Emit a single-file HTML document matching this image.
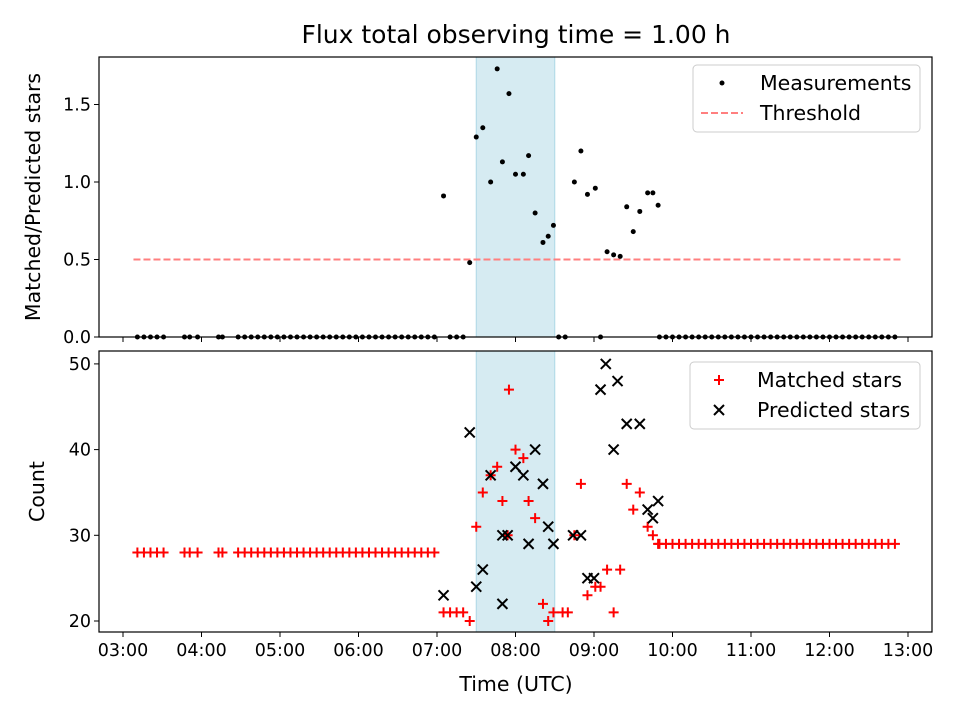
<!DOCTYPE html>
<html><head><meta charset="utf-8"><style>
body{margin:0;background:#fff}
svg{display:block;font-family:"DejaVu Sans","Liberation Sans",sans-serif}
</style></head><body>
<svg id="fig" width="960" height="720" viewBox="0 0 960 720">
<rect width="960" height="720" fill="#fff"/>
<text x="516" y="43" font-size="25" text-anchor="middle">Flux total observing time = 1.00 h</text>
<g id="topPanel"></g>
<g id="botPanel"></g>
</svg>
<script>
// minutes after 03:00 UTC
const baseTimes=[11,16,21,26,31,47,51,57,73,76];
for(let m=88;m<=238;m+=5)baseTimes.push(m);
const lateTimes=[];
for(let m=410;m<=590;m+=5)lateTimes.push(m);
const ratioTimes=[245,265,270,275,281,286,290,295,300,306,310,315,321,325,329,345,350,355,361,365,370,375,380,385,390,395,401,405,409];
const ratioValues=[0.91,0.48,1.29,1.35,1.00,1.73,1.13,1.57,1.05,1.05,1.17,0.80,0.61,0.65,0.72,1.00,1.20,0.92,0.96,0,0.55,0.53,0.52,0.84,0.68,0.81,0.93,0.93,0.85];
const extraZeroTimes=[250,255,260,333,338];
const matchedTimes=[295,300,306,286,281,275,290,310,315,270,294,350,385,395,390,401,405,409,345,370,380,361,365,355,375,321,325,329,336,340,245,250,255,260,265];
const matchedCounts=[47,40,39,38,37,35,34,34,32,31,30,36,36,35,33,31,30,29,30,26,26,24,24,23,21,22,20,21,21,21,21,21,21,21,20];
const predTimes=[369,378,365,385,395,375,265,315,300,306,281,321,409,401,405,325,290,294,310,329,344,350,275,270,245,290,355,360];
const predCounts=[50,48,47,43,43,40,42,40,38,37,37,36,34,33,32,31,30,30,29,29,30,30,26,24,23,22,25,25];
const xTicks=["03:00","04:00","05:00","06:00","07:00","08:00","09:00","10:00","11:00","12:00","13:00"];
const topTicks=[0,0.5,1.0,1.5];
const botTicks=[20,30,40,50];
const span=[270,330];

const NS="http://www.w3.org/2000/svg";
const FS=17.5, LF=20.5;
function mk(p,tag,a){const e=document.createElementNS(NS,tag);for(const k in a)e.setAttribute(k,a[k]);p.appendChild(e);return e;}
const X=m=>123+m/60*78.5;
const YT=v=>337-v*155;
const YB=c=>621-(c-20)*8.57;
const L=99,R=932;
const topG=document.getElementById('topPanel'),botG=document.getElementById('botPanel');

function axes(g,t,b,ticks,yf,fmt,lab,showX){
  let r=mk(g,'rect',{x:X(span[0]),y:t,width:X(span[1])-X(span[0]),height:b-t,fill:'#add8e6','fill-opacity':0.5,stroke:'#add8e6'});
  
  
  xTicks.forEach((s,i)=>{const x=X(i*60);
    mk(g,'line',{x1:x,x2:x,y1:b,y2:b+5,stroke:'#000','stroke-width':1});
    if(showX){let tx=mk(g,'text',{x:x,y:b+24,'font-size':FS,'text-anchor':'middle'});tx.textContent=s;
      
      }
  });
  ticks.forEach(v=>{const y=yf(v);
    mk(g,'line',{x1:L-5,x2:L,y1:y,y2:y,stroke:'#000'});
    let tx=mk(g,'text',{x:L-8,y:y+6,'font-size':FS,'text-anchor':'end'});tx.textContent=fmt(v);
    
    
  });
  let yl=mk(g,'text',{transform:`translate(${lab[0]},${(t+b)/2}) rotate(-90)`,'font-size':LF,'text-anchor':'middle'});yl.textContent=lab[1];
  
  
}
function frame(g,t,b){mk(g,'rect',{x:L,y:t,width:R-L,height:b-t,fill:'none',stroke:'#000','stroke-width':1.2});}
function plus(g,m,c){const x=X(m),y=YB(c);let e=mk(g,'path',{d:`M${x-5} ${y}H${x+5}M${x} ${y-5}V${y+5}`,stroke:'#f00','stroke-width':2});
  
  }
function cross(g,m,c){const x=X(m),y=YB(c);let e=mk(g,'path',{d:`M${x-5} ${y-5}L${x+5} ${y+5}M${x-5} ${y+5}L${x+5} ${y-5}`,stroke:'#000','stroke-width':2});
  
  }
function dot(g,m,v){let e=mk(g,'circle',{cx:X(m),cy:YT(v),r:2.5,fill:'#000'});
  
  }

// TOP
axes(topG,57,337,topTicks,YT,v=>v.toFixed(1),[40,'Matched/Predicted stars'],false);
let th=mk(topG,'line',{x1:X(8),x2:X(595),y1:YT(0.5),y2:YT(0.5),stroke:'#ff7f7f','stroke-width':2,'stroke-dasharray':'7,3'});


baseTimes.concat(extraZeroTimes,lateTimes).forEach(m=>dot(topG,m,0));
ratioTimes.forEach((m,i)=>dot(topG,m,ratioValues[i]));
frame(topG,57,337);

// BOTTOM
axes(botG,351,632,botTicks,YB,v=>String(v),[44,'Count'],true);
baseTimes.forEach(m=>plus(botG,m,28));
lateTimes.forEach(m=>plus(botG,m,29));
matchedTimes.forEach((m,i)=>plus(botG,m,matchedCounts[i]));
predTimes.forEach((m,i)=>cross(botG,m,predCounts[i]));
frame(botG,351,632);
let xl=mk(botG,'text',{x:516,y:691,'font-size':LF,'text-anchor':'middle'});xl.textContent='Time (UTC)';



// legends
function legend(g,x,y,w,items){
  let box=mk(g,'rect',{x:x,y:y,width:w,height:67,rx:4,fill:'#fff','fill-opacity':0.8,stroke:'#ccc'});
  
  
  items.forEach((it,i)=>{const cy=y+18+i*30,cx=x+29;
    if(it[0]==='dot')mk(g,'circle',{cx:cx,cy:cy,r:2.5,fill:'#000'});
    if(it[0]==='dash')mk(g,'line',{x1:cx-21,x2:cx+21,y1:cy,y2:cy,stroke:'#ff7f7f','stroke-width':2,'stroke-dasharray':'7,3'});
    if(it[0]==='plus')mk(g,'path',{d:`M${cx-5} ${cy}H${cx+5}M${cx} ${cy-5}V${cy+5}`,stroke:'#f00','stroke-width':2});
    if(it[0]==='x')mk(g,'path',{d:`M${cx-5} ${cy-5}L${cx+5} ${cy+5}M${cx-5} ${cy+5}L${cx+5} ${cy-5}`,stroke:'#000','stroke-width':2});
    let t=mk(g,'text',{x:x+67,y:cy+7,'font-size':LF});t.textContent=it[1];
    
    
  });
}
legend(topG,693,65,227,[['dot','Measurements'],['dash','Threshold']]);
legend(botG,690,362,230,[['plus','Matched stars'],['x','Predicted stars']]);
</script>
</body></html>
